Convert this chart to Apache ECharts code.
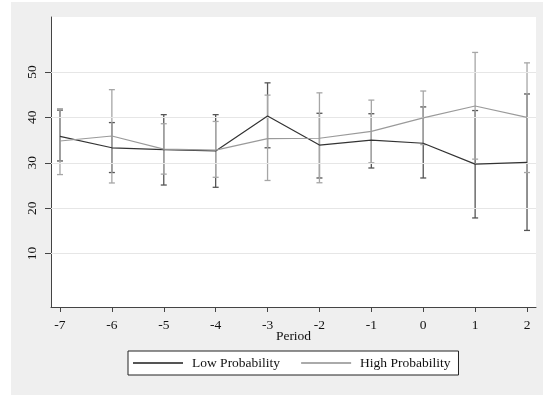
<!DOCTYPE html>
<html>
<head>
<meta charset="utf-8">
<script src="https://cdn.jsdelivr.net/npm/echarts@6/dist/echarts.min.js"></script>
<style>
  html, body { margin: 0; padding: 0; background: #fff; }
  #chart { width: 543px; height: 395px; }
</style>
</head>
<body>
<div id="chart"></div>
<script>
// periods on the x axis
const periods = [-7, -6, -5, -4, -3, -2, -1, 0, 1, 2]
const yTicks = [10, 20, 30, 40, 50]

// low probability group: mean and confidence bounds
const lowMean = [35.8, 33.3, 32.9, 32.6, 40.3, 33.9, 35.0, 34.3, 29.7, 30.1]
const lowLo = [30.4, 27.85, 25.1, 24.6, 33.3, 26.65, 28.85, 26.65, 17.85, 15.1]
const lowHi = [41.6, 38.85, 40.6, 40.6, 47.6, 40.9, 40.8, 42.3, 41.5, 45.15]

// high probability group
const highMean = [34.8, 35.9, 33.0, 32.8, 35.3, 35.4, 36.9, 39.9, 42.5, 40.0]
const highLo = [27.4, 25.55, 27.5, 26.8, 26.1, 25.6, 30.0, 34.0, 30.8, 27.85]
const highHi = [41.9, 46.1, 38.6, 39.1, 44.9, 45.4, 43.8, 45.8, 54.3, 52.0]

const font = 'Liberation Serif'
const darkColor = '#333'
const lightColor = '#a6a6a6'

function errorBars (color, width) {
  return function (params, api) {
    const x = api.value(0)
    const lo = api.coord([x, api.value(1)])
    const hi = api.coord([x, api.value(2)])
    const cap = 3
    const style = { stroke: color, lineWidth: width }
    return {
      type: 'group',
      children: [
        { type: 'line', shape: { x1: lo[0], y1: lo[1], x2: hi[0], y2: hi[1] }, style: style },
        { type: 'line', shape: { x1: lo[0] - cap, y1: lo[1], x2: lo[0] + cap, y2: lo[1] }, style: style },
        { type: 'line', shape: { x1: hi[0] - cap, y1: hi[1], x2: hi[0] + cap, y2: hi[1] }, style: style }
      ]
    }
  }
}

let myChart = echarts.init(document.getElementById('chart'))
myChart.setOption({
  backgroundColor: '#efefef',
  animation: false,
  // white strips along the left and top edge of the picture
  graphic: [
    { type: 'rect', left: 0, top: 0, shape: { width: 11, height: 395 }, style: { fill: '#fff' }, silent: true },
    { type: 'rect', left: 0, top: 0, shape: { width: 543, height: 2 }, style: { fill: '#fff' }, silent: true }
  ],
  grid: {
    left: 51,
    right: 7,
    top: 17,
    bottom: 88,
    show: true,
    backgroundColor: '#fff',
    borderWidth: 0
  },
  legend: {
    left: 128,
    top: 351,
    backgroundColor: '#fff',
    borderColor: '#222',
    borderWidth: 1,
    borderRadius: 0,
    padding: [5, 8, 5, 5],
    itemGap: 21,
    itemWidth: 50,
    itemHeight: 2,
    icon: 'rect',
    textStyle: {
      fontFamily: font,
      fontSize: 13.5,
      color: '#111',
      padding: [0, 0, 0, 4]
    },
    data: [
      { name: 'Low Probability', itemStyle: { color: '#555' } },
      { name: 'High Probability', itemStyle: { color: '#aaa' } }
    ]
  },
  xAxis: {
    type: 'value',
    min: -7.173,
    max: 2.173,
    name: 'Period',
    nameLocation: 'middle',
    nameGap: 22,
    nameMoveOverlap: false,
    nameTextStyle: { fontFamily: font, fontSize: 13.5, color: '#111' },
    axisLine: { show: true, onZero: false, lineStyle: { color: '#444', width: 1 } },
    axisTick: { show: true, customValues: periods, length: 5, lineStyle: { color: '#444' } },
    axisLabel: {
      customValues: periods,
      margin: 11,
      fontFamily: font,
      fontSize: 13.5,
      color: '#111'
    },
    splitLine: { show: false }
  },
  yAxis: {
    type: 'value',
    min: -1.76,
    max: 62.1,
    axisLine: { show: true, onZero: false, lineStyle: { color: '#444', width: 1 } },
    axisTick: { show: true, customValues: yTicks, length: 6, lineStyle: { color: '#444' } },
    axisLabel: {
      customValues: yTicks,
      rotate: 90,
      margin: 12,
      fontFamily: font,
      fontSize: 13.5,
      color: '#111'
    },
    splitLine: { show: false }
  },
  series: [
    {
      name: 'grid',
      type: 'line',
      data: [],
      silent: true,
      markLine: {
        silent: true,
        symbol: 'none',
        label: { show: false },
        lineStyle: { color: '#e6e6e6', type: 'solid', width: 1 },
        data: yTicks.map(v => ({ yAxis: v }))
      }
    },
    {
      name: 'Low CI',
      type: 'custom',
      renderItem: errorBars('#555', 1.3),
      data: periods.map((p, i) => [p, lowLo[i], lowHi[i]]),
      z: 3
    },
    {
      name: 'High CI',
      type: 'custom',
      renderItem: errorBars(lightColor, 1.3),
      data: periods.map((p, i) => [p, highLo[i], highHi[i]]),
      z: 4
    },
    {
      name: 'Low Probability',
      type: 'line',
      symbol: 'none',
      itemStyle: { color: '#555' },
      lineStyle: { color: darkColor, width: 1.2 },
      data: periods.map((p, i) => [p, lowMean[i]]),
      z: 5
    },
    {
      name: 'High Probability',
      type: 'line',
      symbol: 'none',
      itemStyle: { color: '#aaa' },
      lineStyle: { color: '#9a9a9a', width: 1.2 },
      data: periods.map((p, i) => [p, highMean[i]]),
      z: 5
    }
  ]
})
</script>
</body>
</html>
